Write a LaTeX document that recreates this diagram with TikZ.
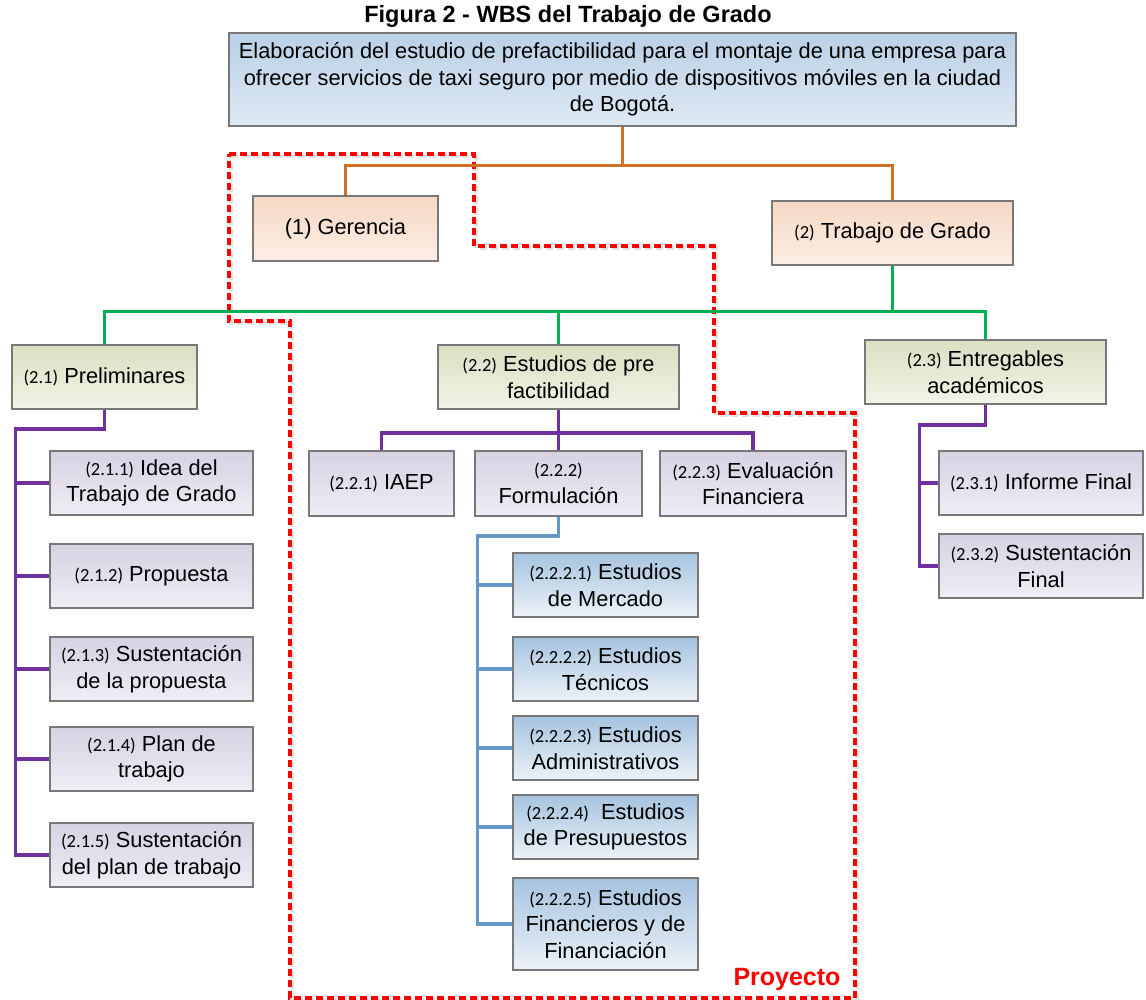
\documentclass[tikz,border=0pt]{standalone}
\usepackage{fontspec}
\setmainfont{Liberation Sans}
\newfontfamily\numfont{Carlito}
\usepackage{xcolor}
\definecolor{BoxBorder}{RGB}{120,120,120}
\definecolor{LineOrange}{RGB}{208,112,36}
\definecolor{LineGreen}{RGB}{0,176,80}
\definecolor{LinePurple}{RGB}{112,48,160}
\definecolor{LineBlue}{RGB}{100,150,200}
\definecolor{ProjRed}{RGB}{255,0,0}
\definecolor{RootTop}{RGB}{186,208,230}
\definecolor{RootBot}{RGB}{222,233,243}
\definecolor{OrgTop}{RGB}{245,216,196}
\definecolor{OrgBot}{RGB}{251,238,229}
\definecolor{GrnTop}{RGB}{217,224,194}
\definecolor{GrnBot}{RGB}{241,244,231}
\definecolor{PurTop}{RGB}{214,210,227}
\definecolor{PurBot}{RGB}{239,237,245}
\definecolor{BluTop}{RGB}{166,195,223}
\definecolor{BluBot}{RGB}{236,242,248}

\newcommand{\wbsnum}[1]{{\numfont\fontsize{18.5}{26}\selectfont(#1)}}

\begin{document}
\begin{tikzpicture}[x=1pt,y=1pt,yscale=-1,xscale=1,
    wbsbox/.style={draw=BoxBorder, line width=1.4pt, align=center, inner sep=1pt,
      minimum height=64pt, font=\fontsize{21.8}{26.5}\selectfont},
    rootbox/.style={wbsbox, top color=RootTop, bottom color=RootBot},
    orgbox/.style={wbsbox, top color=OrgTop, bottom color=OrgBot},
    grnbox/.style={wbsbox, top color=GrnTop, bottom color=GrnBot},
    purbox/.style={wbsbox, top color=PurTop, bottom color=PurBot},
    blubox/.style={wbsbox, top color=BluTop, bottom color=BluBot},
    orgline/.style={draw=LineOrange, line width=3.6pt},
    grnline/.style={draw=LineGreen, line width=3.6pt},
    purline/.style={draw=LinePurple, line width=3.6pt},
    bluline/.style={draw=LineBlue, line width=3.6pt},
    projline/.style={draw=ProjRed, line width=3.4pt, dash pattern=on 7pt off 4pt}]
    \useasboundingbox (0,0) rectangle (1146,1000);

    % Title
    \node[font=\bfseries\fontsize{23.5}{26}\selectfont] (title) at (568,16) {Figura 2 - WBS del Trabajo de Grado};

    % Project boundary (dashed red, with its light shadow)
    \draw[projline, draw=black!12, shift={(2,2)}] (229,154) -- (474,154) -- (474,246) -- (714,246) -- (714,413) -- (855,413)
      -- (855,998) -- (290,998) -- (290,321) -- (229,321) -- cycle;
    \draw[projline] (229,154) -- (474,154) -- (474,246) -- (714,246) -- (714,413) -- (855,413)
      -- (855,998) -- (290,998) -- (290,321) -- (229,321) -- cycle;
    \node[font=\bfseries\fontsize{25}{28}\selectfont, text=ProjRed] (proj) at (787,979) {Proyecto};

    % Level 0
    \node[rootbox, minimum width=787pt, minimum height=93pt] (root) at (622.5,79.5)
      {Elaboración del estudio de prefactibilidad para el montaje de una empresa para\\
       ofrecer servicios de taxi seguro por medio de dispositivos móviles en la ciudad\\
       de Bogotá.};

    % Level 1
    \node[orgbox, minimum width=185pt, minimum height=65pt] (ger) at (345.5,228.5) {(1) Gerencia};
    \node[orgbox, minimum width=241pt] (tdg) at (892.5,233) {\wbsnum{2} Trabajo de Grado};

    % Level 2
    \node[grnbox, minimum width=185pt] (pre) at (104.5,377) {\wbsnum{2.1} Preliminares};
    \node[grnbox, minimum width=241pt] (est) at (558.5,377) {\wbsnum{2.2} Estudios de pre\\factibilidad};
    \node[grnbox, minimum width=241pt] (ent) at (985.5,372) {\wbsnum{2.3} Entregables\\académicos};

    % Level 3 - Preliminares
    \node[purbox, minimum width=203pt] (p1) at (151.5,483) {\wbsnum{2.1.1} Idea del\\Trabajo de Grado};
    \node[purbox, minimum width=203pt] (p2) at (151.5,576) {\wbsnum{2.1.2} Propuesta};
    \node[purbox, minimum width=203pt] (p3) at (151.5,669) {\wbsnum{2.1.3} Sustentación\\de la propuesta};
    \node[purbox, minimum width=203pt] (p4) at (151.5,759) {\wbsnum{2.1.4} Plan de\\trabajo};
    \node[purbox, minimum width=203pt] (p5) at (151.5,855) {\wbsnum{2.1.5} Sustentación\\del plan de trabajo};

    % Level 3 - Estudios de pre factibilidad
    \node[purbox, minimum width=145pt, minimum height=65pt] (iaep) at (381.5,483.5) {\wbsnum{2.2.1} IAEP};
    \node[purbox, minimum width=167pt, minimum height=65pt] (form) at (558.5,483.5) {\wbsnum{2.2.2}\\Formulación};
    \node[purbox, minimum width=186pt, minimum height=65pt] (eva) at (753,483.5) {\wbsnum{2.2.3} Evaluación\\Financiera};

    % Level 3 - Entregables
    \node[purbox, minimum width=204pt] (e1) at (1041,483) {\wbsnum{2.3.1} Informe Final};
    \node[purbox, minimum width=204pt] (e2) at (1041,566) {\wbsnum{2.3.2} Sustentación\\Final};

    % Level 4 - Formulacion
    \node[blubox, minimum width=185pt] (s1) at (605.5,585) {\wbsnum{2.2.2.1} Estudios\\de Mercado};
    \node[blubox, minimum width=185pt] (s2) at (605.5,669) {\wbsnum{2.2.2.2} Estudios\\Técnicos};
    \node[blubox, minimum width=185pt] (s3) at (605.5,748) {\wbsnum{2.2.2.3} Estudios\\Administrativos};
    \node[blubox, minimum width=185pt] (s4) at (605.5,827) {\wbsnum{2.2.2.4}\ \ Estudios\\de Presupuestos};
    \node[blubox, minimum width=185pt, minimum height=92pt] (s5) at (605.5,924) {\wbsnum{2.2.2.5} Estudios\\Financieros y de\\Financiación};

    % Connectors level 0 -> 1
    \draw[orgline] (root.south) -- ++(0,39) coordinate (j1);
    \draw[orgline] (ger.north) |- (j1) -| (tdg.north);

    % Connectors level 1 -> 2
    \draw[grnline] (tdg.south) -- ++(0,46) coordinate (j2);
    \draw[grnline] (pre.north) |- (j2) -| (ent.north);
    \draw[grnline] (est.north) -- (est.north |- j2);

    % Connectors Preliminares
    \draw[purline] (pre.south) -- ++(0,19) -| ([xshift=-34pt]p5.west) -- (p5.west);
    \foreach \n in {p1,p2,p3,p4}
      \draw[purline] (\n.west) -- ++(-34,0);

    % Connectors Estudios de pre factibilidad
    \draw[purline] (est.south) -- ++(0,23) coordinate (j3);
    \draw[purline] (iaep.north) |- (j3) -| (eva.north);
    \draw[purline] (j3) -- (form.north);

    % Connectors Entregables
    \draw[purline] (ent.south) -- ++(0,20) -| ([xshift=-19pt]e2.west) -- (e2.west);
    \draw[purline] (e1.west) -- ++(-19,0);

    % Connectors Formulacion
    \draw[bluline] (form.south) -- ++(0,19) -| ([xshift=-35pt]s5.west) -- (s5.west);
    \foreach \n in {s1,s2,s3,s4}
      \draw[bluline] (\n.west) -- ++(-35,0);
\end{tikzpicture}
\end{document}
